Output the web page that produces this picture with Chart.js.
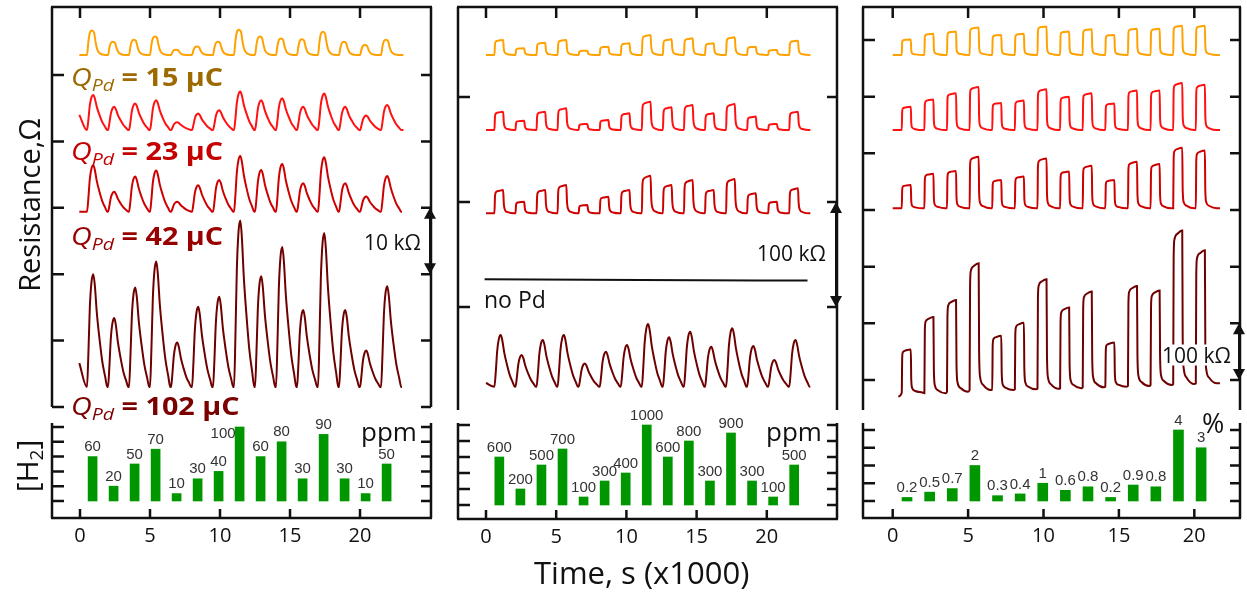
<!DOCTYPE html>
<html>
<head>
<meta charset="utf-8">
<script src="https://cdn.jsdelivr.net/npm/chart.js@4.4.1/dist/chart.umd.min.js"></script>
<style>
  body { margin:0; width:1247px; height:594px; background:#fff; position:relative; overflow:hidden; font-family:'Open Sans', sans-serif; color:#111; }
  .box { position:absolute; }
  .txt { position:absolute; white-space:nowrap; line-height:1; transform:translateY(-50%); z-index:2; }
  .q { position:absolute; white-space:nowrap; line-height:1; font-size:25px; transform:translateY(-50%) scaleX(1.15); transform-origin:left center; z-index:2; }
  .q i { font-style:italic; }
  .q sub { font-style:italic; font-size:17px; vertical-align:-5px; line-height:0; }
  .q b { font-weight:700; }
  .rot { position:absolute; white-space:nowrap; line-height:1; transform:translate(-50%,-50%) rotate(-90deg); z-index:2; }
  .rot sub { font-size:19px; vertical-align:-5px; line-height:0; }
</style>
</head>
<body>

<div class="rot" style="left:28px;top:205px;font-size:29px">Resistance,Ω</div>
<div class="rot" style="left:27px;top:466px;font-size:30px">[H<sub>2</sub>]</div>
<div class="txt" style="left:534px;top:572px;font-size:31px">Time, s (x1000)</div>

<div class="q" style="left:71px;top:76px;color:#9c6a00"><i>Q</i><sub>Pd</sub> <b>= 15 µC</b></div>
<div class="q" style="left:71px;top:150px;color:#c40000"><i>Q</i><sub>Pd</sub> <b>= 23 µC</b></div>
<div class="q" style="left:71px;top:235px;color:#990000"><i>Q</i><sub>Pd</sub> <b>= 42 µC</b></div>
<div class="q" style="left:71px;top:405px;color:#7b0000"><i>Q</i><sub>Pd</sub> <b>= 102 µC</b></div>

<div class="txt" style="left:364px;top:242px;font-size:21px">10 kΩ</div>
<div class="txt" style="left:757px;top:253px;font-size:21px">100 kΩ</div>
<div class="txt" style="left:1162px;top:355px;font-size:21px;background:#fff">100 kΩ</div>
<div class="txt" style="left:484px;top:299px;font-size:23px">no Pd</div>

<div class="txt" style="left:361px;top:431px;font-size:26px">ppm</div>
<div class="txt" style="left:766px;top:431px;font-size:26px">ppm</div>
<div class="txt" style="left:1202px;top:422px;font-size:27px">%</div>

<script>
// time in units of 1000 s
const xTicks = [0, 5, 10, 15, 20];

// start of each H2 pulse
const onP1 = [0.5, 2.0, 3.5, 5.0, 6.5, 8.0, 9.5, 11.0, 12.5, 14.0, 15.5, 17.0, 18.5, 20.0, 21.5];
const onP2 = [0.6, 2.1, 3.6, 5.1, 6.6, 8.1, 9.6, 11.1, 12.6, 14.1, 15.6, 17.1, 18.6, 20.1, 21.6];
const onP3 = [0.6, 2.1, 3.6, 5.1, 6.6, 8.1, 9.6, 11.1, 12.6, 14.1, 15.6, 17.1, 18.6, 20.1];

// bar centres
const barXP1 = [0.9, 2.4, 3.9, 5.4, 6.9, 8.4, 9.9, 11.4, 12.9, 14.4, 15.9, 17.4, 18.9, 20.4, 21.9];
const barXP2 = [0.95, 2.45, 3.95, 5.45, 6.95, 8.45, 9.95, 11.45, 12.95, 14.45, 15.95, 17.45, 18.95, 20.45, 21.95];
const barXP3 = [0.95, 2.45, 3.95, 5.45, 6.95, 8.45, 9.95, 11.45, 12.95, 14.45, 15.95, 17.45, 18.95, 20.45];

// H2 concentrations
const concP1 = [60, 20, 50, 70, 10, 30, 40, 100, 60, 80, 30, 90, 30, 10, 50];
const concP2 = [600, 200, 500, 700, 100, 300, 400, 1000, 600, 800, 300, 900, 300, 100, 500];
const concP3 = [0.2, 0.5, 0.7, 2, 0.3, 0.4, 1, 0.6, 0.8, 0.2, 0.9, 0.8, 4, 3];

// panel 1 resistance (kOhm, offset traces)
const p1Base15 = 53.0;
const p1Peak15 = [56.7, 55.0, 55.3, 55.8, 53.8, 54.3, 55.0, 56.8, 55.8, 55.5, 55.4, 56.5, 55.0, 54.5, 55.3];
const p1Base23 = 41.7;
const p1Peak23 = [47.0, 45.2, 45.7, 46.2, 42.9, 44.2, 44.7, 47.5, 46.2, 46.5, 45.2, 47.2, 45.2, 43.9, 45.5];
const p1Base42 = 29.4;
const p1Peak42 = [36.4, 32.4, 34.7, 35.6, 30.9, 33.4, 34.2, 37.8, 35.7, 36.6, 33.7, 37.6, 33.7, 31.7, 34.8];
const p1Base102 = 3.0;
const p1Peak102 = [20.0, 13.4, 18.0, 21.9, 9.7, 15.1, 16.6, 28.1, 19.7, 24.1, 14.6, 26.2, 14.6, 8.5, 18.2];

// panel 2
const p2Base15 = 240;
const p2Peak15 = [254.3, 246.4, 251.7, 254.3, 244.1, 247.9, 251.1, 259.0, 254.9, 255.9, 251.1, 256.9, 247.9, 244.8, 253.6];
const p2Base23 = 168.6;
const p2Peak23 = [186.0, 177.4, 186.0, 189.2, 174.3, 178.1, 184.4, 195.5, 190.2, 192.4, 184.4, 193.3, 181.3, 174.3, 186.0];
const p2Base42 = 89.2;
const p2Peak42 = [111.4, 100.3, 111.4, 116.2, 97.1, 105.0, 111.4, 125.0, 116.2, 121.0, 111.4, 121.9, 108.3, 100.3, 113.0];
const p2NoPdT = [-0.1, 11, 22.9];
const p2NoPd = [26.5, 25.6, 25.2];
const p2Base102 = -75.9;
const p2Peak102 = [-26.7, -45.7, -31.4, -26.7, -53.7, -42.6, -36.2, -16.2, -28.9, -23.5, -37.8, -20.3, -37.1, -50.5, -31.4];

// panel 3
const p3Base15 = 573.5;
const p3Peak15 = [601, 611, 615, 622, 609, 611, 624, 615, 619, 609, 620, 620, 625, 625];
const p3Base23 = 441;
const p3Peak23 = [482, 495, 506, 517, 489, 493, 513, 500, 506, 488, 511, 511, 524, 521];
const p3Base42 = 303;
const p3Peak42 = [344, 364, 369, 394, 353, 359, 391, 368, 378, 353, 385, 381, 410, 405];
const p3Base102 = [-22.4, -23.5, -20.6, -17.6, -17.6, -16.5, -15.3, -14.7, -12.9, -11.8, -10.6, -8.8, -7.1, -5.9];
const p3Peak102 = [54, 111, 141, 206, 78, 101, 178, 128, 156, 66, 166, 158, 264, 229];

// pulse shapes: [time after start, fraction of peak]
const spikeShape = [[0,0],[0.1,0.3],[0.2,0.7],[0.32,0.93],[0.45,1],[0.56,0.9],[0.7,0.66],[0.9,0.42],[1.1,0.22],[1.3,0.09],[1.45,0]];
const roundShape = [[0,0],[0.1,0.55],[0.2,0.9],[0.35,1],[0.5,0.92],[0.62,0.5],[0.75,0.2],[0.95,0.06],[1.2,0.01],[1.45,0]];
const squareShape = [[0,0],[0.04,0.72],[0.1,0.9],[0.3,0.96],[0.62,1],[0.67,0.4],[0.76,0.14],[0.95,0.05],[1.4,0]];
const boxShape = [[0,0],[0.03,0.82],[0.08,0.94],[0.3,0.98],[0.6,1],[0.63,0.3],[0.7,0.1],[0.9,0.04],[1.4,0]];

const c15 = '#ffa200', c23 = '#ff1111', c42 = '#cc0000', c102 = '#6e0000', cBar = '#009600';

function buildTrace(on, peaks, base, shape, t0, t1, y0) {
  const b = i => Array.isArray(base) ? base[i] : base;
  const pts = [{x: t0, y: y0 !== undefined ? y0 : b(0)}];
  on.forEach((t, i) => {
    shape.forEach(s => pts.push({x: t + s[0], y: b(i) + s[1] * (peaks[i] - b(i))}));
  });
  pts.push({x: t1, y: b(on.length - 1)});
  return pts;
}

function line(data, color, w) {
  return { type: 'line', data: data, borderColor: color, borderWidth: w || 2,
           pointRadius: 0, fill: false, cubicInterpolationMode: 'monotone' };
}

function bars(xs, vals, w) {
  return { type: 'bar', data: xs.map((x, i) => ({x: x, y: vals[i]})),
           backgroundColor: cBar, barThickness: w, grouped: false };
}

const framePlugin = {
  id: 'frame',
  afterDraw(chart, args, f) {
    const ctx = chart.ctx, a = chart.chartArea, x = chart.scales.x, y = chart.scales.y;
    ctx.save();
    ctx.strokeStyle = '#111';
    ctx.lineWidth = 2.5;
    ctx.beginPath();
    ctx.moveTo(a.left, a.top); ctx.lineTo(a.left, a.bottom);
    ctx.moveTo(a.right, a.top); ctx.lineTo(a.right, a.bottom);
    if (f.top) { ctx.moveTo(a.left - 1, a.top); ctx.lineTo(a.right + 1, a.top); }
    if (f.bottom) { ctx.moveTo(a.left - 1, a.bottom); ctx.lineTo(a.right + 1, a.bottom); }
    y.ticks.forEach(t => {
      const py = y.getPixelForValue(t.value);
      ctx.moveTo(a.left, py); ctx.lineTo(a.left + 12, py);
      ctx.moveTo(a.right, py); ctx.lineTo(a.right - 10, py);
    });
    x.ticks.forEach(t => {
      const px = x.getPixelForValue(t.value);
      if (f.top) { ctx.moveTo(px, a.top); ctx.lineTo(px, a.top + 11); }
      if (f.bottom) { ctx.moveTo(px, a.bottom); ctx.lineTo(px, a.bottom - 9); }
    });
    ctx.stroke();
    if (f.bar) {
      const px = a.right - 1;
      const y1 = y.getPixelForValue(f.bar[1]), y2 = y.getPixelForValue(f.bar[0]);
      ctx.lineWidth = 2;
      ctx.beginPath();
      ctx.moveTo(px, y1 + 8); ctx.lineTo(px, y2 - 8);
      ctx.stroke();
      ctx.fillStyle = '#111';
      ctx.beginPath();
      ctx.moveTo(px, y1); ctx.lineTo(px - 6, y1 + 11); ctx.lineTo(px + 6, y1 + 11); ctx.closePath();
      ctx.moveTo(px, y2); ctx.lineTo(px - 6, y2 - 11); ctx.lineTo(px + 6, y2 - 11); ctx.closePath();
      ctx.fill();
    }
    ctx.restore();
  }
};

const barTextPlugin = {
  id: 'barText',
  afterDatasetsDraw(chart, args, f) {
    if (!f || !f.labels) return;
    const ctx = chart.ctx;
    const meta = chart.getDatasetMeta(0);
    ctx.save();
    ctx.font = '15px "Liberation Sans", Arial, sans-serif';
    ctx.fillStyle = '#333';
    meta.data.forEach((el, i) => {
      if (i === f.leftIndex) {
        ctx.textAlign = 'right'; ctx.textBaseline = 'middle';
        ctx.fillText(f.labels[i], el.x - 4, el.y + 7);
      } else {
        ctx.textAlign = 'center'; ctx.textBaseline = 'bottom';
        ctx.fillText(f.labels[i], el.x, el.y - 2);
      }
    });
    ctx.restore();
  }
};

function makeChart(o) {
  const pad = 6, padTop = o.xLabels ? 20 : 6;
  const extra = o.xLabels ? 34 : 0;
  const div = document.createElement('div');
  div.className = 'box';
  div.style.left = (o.left - pad) + 'px';
  div.style.top = (o.top - padTop) + 'px';
  const cv = document.createElement('canvas');
  cv.width = o.right - o.left + 2 * pad;
  cv.height = o.bottom - o.top + pad + padTop + extra;
  div.appendChild(cv);
  document.body.appendChild(div);
  return new Chart(cv, {
    type: o.type,
    data: { datasets: o.datasets },
    options: {
      responsive: false, animation: false, events: [], devicePixelRatio: 1,
      layout: { padding: { left: pad, right: pad, top: padTop, bottom: pad } },
      plugins: { legend: { display: false }, tooltip: { enabled: false },
                 frame: o.frame, barText: o.barText || {} },
      scales: {
        x: { type: 'linear', min: o.xMin, max: o.xMax, offset: false,
             grid: { display: false, drawTicks: false }, border: { display: false },
             ticks: { display: !!o.xLabels, padding: 6, color: '#111',
                      font: { family: 'Open Sans', size: 20 } },
             afterBuildTicks: s => { s.ticks = xTicks.map(v => ({ value: v })); },
             afterFit: s => { s.height = extra; } },
        y: { type: 'linear', min: o.yMin, max: o.yMax,
             grid: { display: false, drawTicks: false }, border: { display: false },
             ticks: { display: false },
             afterBuildTicks: s => { s.ticks = o.yTicks.map(v => ({ value: v })); },
             afterFit: s => { s.width = 0; } }
      }
    },
    plugins: [framePlugin, barTextPlugin]
  });
}

// panel 1
makeChart({ type: 'line', left: 52, right: 431, top: 7, bottom: 407,
  xMin: -2.0, xMax: 25.07, yMin: 0, yMax: 60.24, yTicks: [0, 10, 20, 30, 40, 50],
  frame: { top: true, bar: [20, 30] },
  datasets: [
    line(buildTrace(onP1, p1Peak15, p1Base15, roundShape, -0.05, 23.1), c15),
    line(buildTrace(onP1, p1Peak23, p1Base23, spikeShape, -0.05, 23.1, 44), c23),
    line(buildTrace(onP1, p1Peak42, p1Base42, spikeShape, -0.05, 23.0), c42),
    line(buildTrace(onP1, p1Peak102, p1Base102, spikeShape, -0.05, 23.0, 6.6), c102)
  ] });
makeChart({ type: 'bar', left: 52, right: 431, top: 423, bottom: 518, xLabels: true,
  xMin: -2.0, xMax: 25.07, yMin: -23, yMax: 105.4, yTicks: [0, 20, 40, 60, 80, 100],
  frame: { bottom: true },
  barText: { labels: concP1.map(String), leftIndex: 7 },
  datasets: [ bars(barXP1, concP1, 9) ] });

// panel 2
makeChart({ type: 'line', left: 458, right: 837, top: 7, bottom: 410,
  xMin: -1.994, xMax: 25.0, yMin: -98.1, yMax: 285.7, yTicks: [0, 100, 200],
  frame: { top: true, bar: [0, 100] },
  datasets: [
    line(buildTrace(onP2, p2Peak15, p2Base15, squareShape, 0, 23.1), c15),
    line(buildTrace(onP2, p2Peak23, p2Base23, squareShape, 0, 23.1), c23),
    line(buildTrace(onP2, p2Peak42, p2Base42, squareShape, 0, 23.1), c42),
    line(p2NoPdT.map((t, i) => ({ x: t, y: p2NoPd[i] })), '#111'),
    line(buildTrace(onP2, p2Peak102, p2Base102, spikeShape, 0, 23.1, -72.4), c102)
  ] });
makeChart({ type: 'bar', left: 458, right: 837, top: 423, bottom: 519, xLabels: true,
  xMin: -1.994, xMax: 25.0, yMin: -175, yMax: 1025, yTicks: [0, 200, 400, 600, 800, 1000],
  frame: { bottom: true },
  barText: { labels: concP2.map(String) },
  datasets: [ bars(barXP2, concP2, 9) ] });

// panel 3
makeChart({ type: 'line', left: 863, right: 1240, top: 7, bottom: 410,
  xMin: -1.97, xMax: 23.03, yMin: -52.9, yMax: 658.2, yTicks: [0, 100, 200, 300, 400, 500, 600],
  frame: { top: true, bar: [0, 100] },
  datasets: [
    line(buildTrace(onP3, p3Peak15, p3Base15, boxShape, 0, 21.7), c15),
    line(buildTrace(onP3, p3Peak23, p3Base23, boxShape, 0, 21.7), c23),
    line(buildTrace(onP3, p3Peak42, p3Base42, boxShape, 0, 21.7), c42),
    line(buildTrace(onP3, p3Peak102, p3Base102, boxShape, 0.37, 21.7, -29), c102)
  ] });
makeChart({ type: 'bar', left: 863, right: 1240, top: 423, bottom: 518, xLabels: true,
  xMin: -1.97, xMax: 23.03, yMin: -0.958, yMax: 4.394, yTicks: [0, 1, 2, 3, 4],
  frame: { bottom: true },
  barText: { labels: concP3.map(String) },
  datasets: [ bars(barXP3, concP3, 10) ] });
</script>
</body>
</html>
